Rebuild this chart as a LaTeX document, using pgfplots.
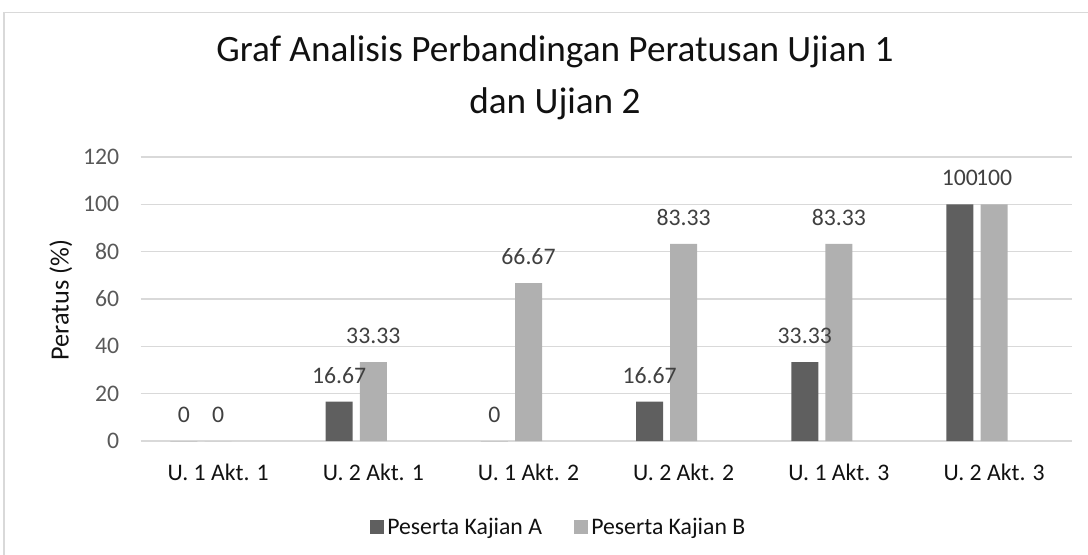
\documentclass[border=0pt]{standalone}
\usepackage{pgfplots}
\pgfplotsset{compat=1.18}
\usepackage{fontspec}
\setmainfont{Carlito}
\definecolor{darkbar}{HTML}{5F5F5F}
\definecolor{lightbar}{HTML}{B0B0B0}
\definecolor{gridc}{HTML}{D9D9D9}
\definecolor{tickc}{HTML}{595959}
\definecolor{labc}{HTML}{404040}
\definecolor{textc}{HTML}{111111}
\begin{document}
\begin{tikzpicture}
\path[use as bounding box] (0,0) rectangle (816pt,415.5pt);
\draw[gridc, line width=1.2pt] (3pt,-5pt) -- (3pt,406pt) -- (830pt,406pt);
\begin{axis}[
  at={(105.375pt,84.75pt)}, anchor=south west,
  scale only axis, width=698.4pt, height=213pt,
  xmin=-0.5, xmax=5.5, ymin=0, ymax=120,
  ytick={0,20,...,120}, xtick={0,...,5},
  xticklabels={U. 1 Akt. 1, U. 2 Akt. 1, U. 1 Akt. 2, U. 2 Akt. 2, U. 1 Akt. 3, U. 2 Akt. 3},
  axis line style={draw=none},
  major tick length=0pt,
  ymajorgrids, grid style={gridc, line width=1.1pt},
  /pgf/number format/assume math mode=true,
  yticklabel style={font=\fontsize{17.8}{20}\selectfont, text=tickc, inner sep=0pt, anchor=east, xshift=-15.75pt},
  xticklabel style={font=\fontsize{17.8}{20}\selectfont, text=textc, inner sep=0pt, anchor=base, yshift=-29.25pt},
  ylabel={Peratus (\%)},
  ylabel style={at={(axis description cs:-0.0855,0.4965)}, anchor=center, font=\fontsize{19.7}{22}\selectfont, text=textc},
  title={Graf Analisis Perbandingan Peratusan Ujian 1\\dan Ujian 2},
  title style={at={(axis description cs:0.4451,1.1243)}, anchor=base, align=center, font=\fontsize{27.9}{39.3}\selectfont, text=textc, inner sep=0pt},
  ybar, bar width=20.25pt,
  clip=false,
  point meta=explicit symbolic,
  nodes near coords,
  nodes near coords style={font=\fontsize{17.8}{20}\selectfont, text=labc, anchor=base, inner sep=0pt, yshift=13.9pt},
  legend columns=2,
  legend style={draw=none, fill=none, at={(0.4497,-0.3028)}, anchor=center,
    font=\fontsize{17.8}{20}\selectfont, text=textc,
    /tikz/every even column/.append style={column sep=21.5pt},
    nodes={inner sep=2.5pt}},
  legend image code/.code={\fill[#1] (-1.5pt,-5pt) rectangle (9pt,5.5pt);},
]
\addplot[fill=darkbar, draw=none, bar shift=-25.6pt] coordinates {
  (0,0) [0] (1,16.67) [16.67] (2,0) [0] (3,16.67) [16.67] (4,33.33) [33.33] (5,100) [100]
};
\addlegendentry{Peserta Kajian A}
\addplot[fill=lightbar, draw=none, bar shift=0pt] coordinates {
  (0,0) [0] (1,33.33) [33.33] (2,66.67) [66.67] (3,83.33) [83.33] (4,83.33) [83.33] (5,100) [100]
};
\addlegendentry{Peserta Kajian B}
\end{axis}
\end{tikzpicture}
\end{document}
